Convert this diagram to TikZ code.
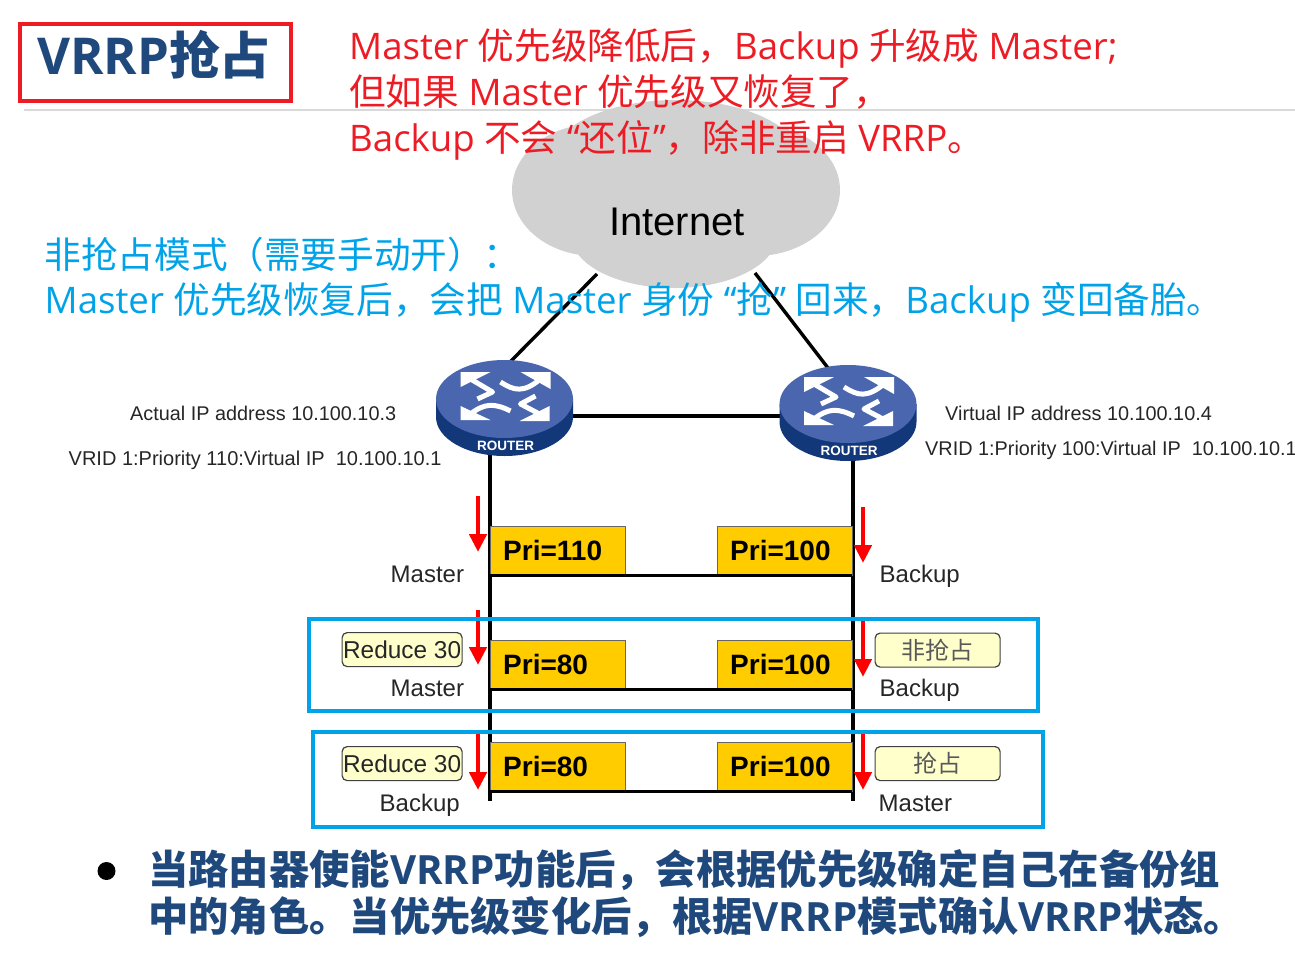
\documentclass[tikz,border=0pt]{standalone}
\usepackage{fontspec}
\setmainfont{Open Sans}
\newfontfamily\cjk{Noto Sans CJK SC}
\newfontfamily\ari{Liberation Sans}
\newcommand{\C}[1]{{\cjk #1}}
\newcommand{\fsz}[1]{\fontsize{#1}{#1}\selectfont}
\definecolor{redtxt}{HTML}{ED1C24}
\definecolor{bluetxt}{HTML}{00A2E8}
\definecolor{navy}{HTML}{1F497D}
\definecolor{rtop}{HTML}{4A66AE}
\definecolor{rside}{HTML}{12387A}
\definecolor{pri}{HTML}{FFCC00}
\definecolor{note}{HTML}{FFFFCC}
\usetikzlibrary{arrows.meta}
\tikzset{
  redline/.style={anchor=base west,inner sep=0,text=redtxt,font=\fsz{36.6}},
  blueline/.style={anchor=base west,inner sep=0,text=bluetxt,font=\fsz{36.6}},
  boldline/.style={anchor=base west,inner sep=0,text=navy,font=\fsz{40.3}\bfseries},
  lab/.style={anchor=base west,inner sep=0,text=black!85,font=\ari\fsz{24}},
  small/.style={anchor=base west,inner sep=0,text=black!85,font=\ari\fsz{19.85}},
  link/.style={draw=black,line width=3.4pt},
  prib/.style={draw=black!60,line width=.8pt,fill=pri,anchor=north west,minimum width=135pt,minimum height=49pt,inner sep=0},
  pritxt/.style={anchor=base west,inner sep=0,font=\ari\bfseries\fsz{28}},
  notebox/.style={draw=black!75,line width=1.2pt,fill=note,rounded corners=5pt,anchor=north west,minimum width=120pt,minimum height=34pt,inner sep=0,font=\ari\fsz{24.4},text=black!85},
  cnbox/.style={notebox,minimum width=125pt,font=\cjk\fsz{24},text=black!65},
  redarrow/.style={draw=red,line width=4.5pt,-{Triangle[length=18pt,width=17pt]}},
  bluebox/.style={draw=bluetxt,line width=4pt,anchor=north west,inner sep=0},
  hub/.style={inner sep=0,minimum width=137pt,minimum height=97pt},
  rarrow/.style={draw=white,line width=5pt,line join=round},
}
\newcommand{\routerbody}[2]{%
  \begin{scope}[shift={(#1,#2)}]
    \fill[rside] (-68.5,0) -- (-68.5,18) arc[start angle=180,end angle=0,x radius=68.5,y radius=39] -- (68.5,0) -- cycle;
    \fill[rtop] (0,0) ellipse[x radius=68.5,y radius=39];
    \fill[white] (-44,-27) -- (-14,-27) -- (-44,-12) -- cycle;
    \fill[white] (46,-27) -- (16,-27) -- (46,-10) -- cycle;
    \fill[white] (-44,21) -- (-14,21) -- (-44,7) -- cycle;
    \fill[white] (45,22) -- (15,22) -- (45,7) -- cycle;
    \draw[rarrow] (-34,-20) -- (-12,-7) -- (-27,0);
    \draw[rarrow] (36,-20) .. controls (19,-6) and (10,-8) .. (-4,-17);
    \draw[rarrow] (-34,15) .. controls (-20,4) and (-10,4) .. (6,12);
    \draw[rarrow] (35,15) -- (16,5) -- (31,-3);
    \node[inner sep=0,text=white,font=\ari\bfseries\fsz{13.5}] at (1,46.5) {ROUTER};
  \end{scope}}
\begin{document}
\begin{tikzpicture}[x=1pt,y=-1pt]
\useasboundingbox (0,0) rectangle (1295,969);
% rule
\coordinate (ruleL) at (24,110); \coordinate (ruleR) at (1295,110);
\draw[black!15,line width=2.5pt] (ruleL) -- (ruleR);
% cloud
\fill[black!18] (595,190) ellipse[x radius=83,y radius=66] (755,190) ellipse[x radius=85,y radius=66]
  (676,160) ellipse[x radius=125,y radius=60]
  (674,235) ellipse[x radius=103,y radius=53];
\node[inner sep=0,font=\ari\fsz{40},text=black] (net) at (677,222) {Internet};
% title
\node[draw=redtxt,line width=4pt,anchor=north west,minimum width=271pt,minimum height=77pt,inner sep=0] (titlebox) at (18,22) {};
\node[inner sep=0,anchor=base west,text=navy,font=\fsz{50.8}\bfseries] (title) at (37,74) {VRRP\C{抢占}};
% routers
\node[hub] (r1) at (504.5,408.5) {};
\node[hub] (r2) at (848,413) {};
\coordinate (cl) at (597,274); \coordinate (cr) at (755,273);
\coordinate (r1t) at (510,362); \coordinate (r2t) at (828,368);
\coordinate (l1) at (560,416); \coordinate (l2) at (790,416);
\coordinate (b1) at (490,801); \coordinate (b2) at (853,801);
\coordinate (t1) at (490,450); \coordinate (t2) at (853,452);
\draw[link] (cl) -- (r1t);
\draw[link] (cr) -- (r2t);
\draw[link] (l1) -- (l2);
\draw[link] (t1) -- (b1);
\draw[link] (t2) -- (b2);
\routerbody{504.5}{399}
\routerbody{848}{404}
% priority boxes
\foreach \n/\y in {a/525.5,b/639.5,c/741.5}{
  \node[prib] (p\n1) at (489.5,\y) {};
  \node[prib] (p\n2) at (716.5,\y) {};
  \draw[draw=black,line width=3.6pt] (p\n1.south west) -- (p\n2.south east);
}
\node[pritxt] (ta1) at (503,560) {Pri=110};
\node[pritxt] (ta2) at (730,560) {Pri=100};
\node[pritxt] (tb1) at (503,674) {Pri=80};
\node[pritxt] (tb2) at (730,674) {Pri=100};
\node[pritxt] (tc1) at (503,776) {Pri=80};
\node[pritxt] (tc2) at (730,776) {Pri=100};
% red arrows
\foreach \n/\x/\ya/\yb in {1/478/496/552,2/863/507/563,3/478/610/665,4/863/621/677,5/478/733/790,6/863/733/790}{
  \coordinate (ra\n) at (\x,\ya); \coordinate (rb\n) at (\x,\yb);
  \draw[redarrow] (ra\n) -- (rb\n);
}
% blue frames
\node[bluebox,minimum width=729pt,minimum height=92pt] (f1) at (306.5,616.5) {};
\node[bluebox,minimum width=730pt,minimum height=95pt] (f2) at (310.5,729.5) {};
% notes
\node[notebox] (n1) at (341.5,632) {Reduce 30};
\node[notebox] (n2) at (341.5,746) {Reduce 30};
\node[cnbox] (n3) at (874.5,632.5) {非抢占};
\node[cnbox] (n4) at (874.5,746) {抢占};
% labels
\node[small] (s1) at (130,420) {Actual IP address 10.100.10.3};
\node[small,font=\ari\fsz{20}] (s2) at (68.5,465) {VRID 1:Priority 110:Virtual IP\ \ 10.100.10.1};
\node[small] (s3) at (945,420) {Virtual IP address 10.100.10.4};
\node[small] (s4) at (925,455) {VRID 1:Priority 100:Virtual IP\ \ 10.100.10.1};
\node[lab] (m1) at (390.5,582) {Master};
\node[lab] (m2) at (879.5,582) {Backup};
\node[lab] (m3) at (390.5,696) {Master};
\node[lab] (m4) at (879.5,696) {Backup};
\node[lab] (m5) at (379.5,811) {Backup};
\node[lab] (m6) at (878.5,811) {Master};
% red text
\node[redline] (rt1) at (349,59) {Master \C{优先级降低后，}Backup \C{升级成} Master;};
\node[redline] (rt2) at (349,105) {\C{但如果} Master \C{优先级又恢复了，}};
\node[redline] (rt3) at (349,151) {Backup \C{不会} “\C{还位}”\C{，除非重启} VRRP\C{。}};
% blue text
\node[blueline] (bt1) at (44.5,268) {\C{非抢占模式（需要手动开）：}};
\node[blueline] (bt2) at (44.5,313) {Master \C{优先级恢复后，会把} Master \C{身份} “\C{抢}” \C{回来，}Backup \C{变回备胎。}};
% bottom
\node[circle,fill=black,minimum size=18pt,inner sep=0] (dot) at (106.5,871) {};
\node[boldline] (bo1) at (148,884) {\C{当路由器使能}VRRP\C{功能后，会根据优先级确定自己在备份组}};
\node[boldline] (bo2) at (148,931) {\C{中的角色。当优先级变化后，根据}VRRP\C{模式确认}VRRP\C{状态。}};
\end{tikzpicture}
\end{document}
